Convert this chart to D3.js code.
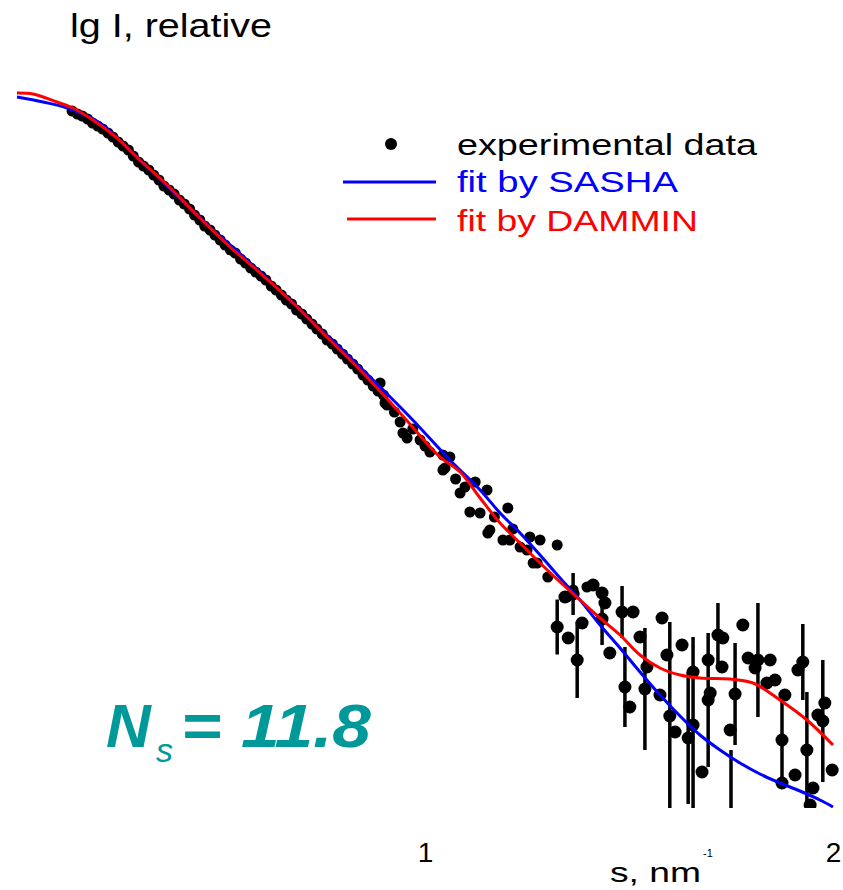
<!DOCTYPE html>
<html><head><meta charset="utf-8">
<script src="https://cdn.jsdelivr.net/npm/d3@7"></script>
<style>body{margin:0;background:#fff}svg{display:block}text{font-family:"Liberation Sans",Arial,sans-serif}</style>
</head><body>
<script>
// ---- data ----
// SASHA fit (s in nm^-1, lg I relative)
const sashaS = [0,0.064,0.123,0.203,0.301,0.449,0.596,0.767,0.848,0.963,1.061,1.135,1.184,1.233,1.282,1.331,1.380,1.429,1.478,1.527,1.576,1.625,1.674,1.723,1.772,1.821,1.870,1.919,1.968,2.0];
const sashaI = [-0.01,-0.035,-0.065,-0.14,-0.325,-0.615,-0.885,-1.215,-1.375,-1.61,-1.825,-1.975,-2.09,-2.19,-2.30,-2.415,-2.525,-2.65,-2.765,-2.885,-3.0,-3.105,-3.2,-3.275,-3.34,-3.395,-3.44,-3.48,-3.525,-3.56];
// DAMMIN fit
const damminS = [0,0.039,0.098,0.137,0.186,0.245,0.301,0.363,0.441,0.522,0.596,0.669,0.767,0.848,0.939,1.037,1.086,1.135,1.184,1.233,1.282,1.331,1.380,1.429,1.478,1.527,1.576,1.625,1.674,1.748,1.804,1.870,1.936,2.0];
const damminI = [0.01,0.005,-0.035,-0.065,-0.125,-0.215,-0.325,-0.44,-0.60,-0.76,-0.89,-1.025,-1.225,-1.39,-1.59,-1.81,-1.885,-2.015,-2.14,-2.24,-2.34,-2.435,-2.525,-2.615,-2.70,-2.80,-2.865,-2.90,-2.915,-2.92,-2.94,-3.025,-3.125,-3.25];
// experimental data, low angles
const expS = [0.135,0.148,0.160,0.173,0.185,0.198,0.210,0.223,0.235,0.248,0.260,0.273,0.285,0.298,0.310,0.323,0.335,0.348,0.360,0.373,0.385,0.398,0.410,0.423,0.435,0.448,0.460,0.473,0.485,0.498,0.510,0.523,0.535,0.548,0.560,0.573,0.585,0.598,0.610,0.623,0.635,0.648,0.660,0.673,0.685,0.698,0.710,0.723,0.735,0.748,0.760,0.773,0.785,0.798,0.810,0.823,0.835,0.848,0.860,0.873,0.885,0.898,
  0.890,0.902,0.907,0.939,0.946,0.956,0.988,1.012,1.044,1.049,1.061,1.044,1.086,1.123,1.110,1.135,1.152,1.159,1.154,1.203,1.191,1.208,1.233,1.250,1.257,1.282,1.324,1.265,1.275,1.301,1.363,1.348,1.397,0.925,0.970,1.000,1.075,1.098,1.170,1.215];
const expI = [-0.08,-0.095,-0.105,-0.12,-0.14,-0.155,-0.17,-0.19,-0.21,-0.235,-0.255,-0.275,-0.305,-0.335,-0.355,-0.375,-0.40,-0.425,-0.455,-0.475,-0.495,-0.525,-0.545,-0.57,-0.60,-0.625,-0.655,-0.675,-0.70,-0.725,-0.75,-0.775,-0.79,-0.82,-0.84,-0.865,-0.885,-0.905,-0.925,-0.955,-0.975,-1.0,-1.025,-1.045,-1.075,-1.095,-1.12,-1.145,-1.17,-1.195,-1.225,-1.245,-1.27,-1.295,-1.32,-1.345,-1.37,-1.40,-1.425,-1.455,-1.48,-1.50,
  -1.44,-1.54,-1.55,-1.635,-1.69,-1.715,-1.725,-1.785,-1.80,-1.865,-1.81,-1.875,-1.99,-1.935,-2.085,-2.09,-1.975,-2.175,-2.19,-2.065,-2.225,-2.225,-2.26,-2.275,-2.21,-2.225,-2.25,-2.34,-2.34,-2.41,-2.475,-2.51,-2.46,-1.585,-1.67,-1.755,-1.92,-1.96,-2.11,-2.17];
// experimental data, high angles (with errors)
const errS = [1.324,1.363,1.373,1.434,1.483,1.490,1.539,1.600,1.645,1.657,1.694,1.718,1.760,1.750,1.816,1.875,1.926,1.936,1.975,
  1.343,1.351,1.385,1.412,1.434,1.441,1.453,1.510,1.502,1.527,1.544,1.576,1.581,1.593,1.613,1.630,1.657,1.679,1.694,1.699,1.730,1.728,1.748,1.779,1.792,1.846,1.809,1.858,1.838,1.882,1.875,1.907,1.914,1.951,1.944,1.963,1.980,1.998];
const errI = [-2.66,-2.495,-2.825,-2.62,-2.585,-2.96,-2.97,-3.105,-3.215,-3.15,-3.025,-2.70,-2.995,-3.675,-2.825,-3.225,-2.835,-3.275,-3.13,
  -2.51,-2.715,-2.64,-2.45,-2.49,-2.54,-2.79,-2.585,-3.06,-2.71,-2.86,-3.0,-2.615,-2.80,-3.185,-2.75,-2.885,-3.385,-2.825,-2.99,-2.715,-2.86,-3.175,-2.65,-2.815,-2.825,-2.865,-2.925,-2.94,-3.0,-3.44,-3.40,-2.875,-3.465,-3.55,-3.10,-3.04,-3.375];
const errE = [0.1375,0.105,0.19,0.13,0.13,0.2,0.305,0.47,0.33,0.44,0.335,0.16,0.255,0.4,0.285,0.235,0.19,0.29,0.305,
  0,0,0,0,0,0,0,0,0,0,0,0,0,0,0,0,0,0,0,0,0,0,0,0,0,0,0,0,0,0,0,0,0,0,0,0,0,0];
const xTicks = [1,2];
const legendLabels = ["experimental data","fit by SASHA","fit by DAMMIN"];

// ---- chart ----
const W=843,H=890;
const svg=d3.select("body").append("svg").attr("width",W).attr("height",H);
const x=d3.scaleLinear().domain([0,2]).range([17,833]);
const y=d3.scaleLinear().domain([0,-3.565]).range([95,808]);

svg.append("defs").append("clipPath").attr("id","clip")
  .append("rect").attr("x",0).attr("y",60).attr("width",W).attr("height",808-60);

const plot=svg.append("g").attr("clip-path","url(#clip)");

// error bars
const hi = errS.map((s,i)=>({s,v:errI[i],e:errE[i]})).filter(d=>d.e>0);
plot.selectAll("line.err").data(hi).join("line").attr("class","err")
  .attr("x1",d=>x(d.s)).attr("x2",d=>x(d.s))
  .attr("y1",d=>y(d.v+d.e)).attr("y2",d=>y(d.v-d.e))
  .attr("stroke","#000").attr("stroke-width",3.5);

const pts = expS.map((s,i)=>({s,v:expI[i],r:5.5}))
  .concat(errS.map((s,i)=>({s,v:errI[i],r:6.5})));
plot.selectAll("circle.pt").data(pts).join("circle").attr("class","pt")
  .attr("cx",d=>x(d.s)).attr("cy",d=>y(d.v)).attr("r",d=>d.r).attr("fill","#000");

const line=d3.line().x(d=>x(d[0])).y(d=>y(d[1])).curve(d3.curveCatmullRom.alpha(0.5));
plot.append("path").datum(sashaS.map((s,i)=>[s,sashaI[i]]))
  .attr("d",line).attr("fill","none").attr("stroke","#0000ff").attr("stroke-width",3);
plot.append("path").datum(damminS.map((s,i)=>[s,damminI[i]]))
  .attr("d",line).attr("fill","none").attr("stroke","#ff0000").attr("stroke-width",3);

// x axis (labels only)
const ax=svg.append("g").attr("transform","translate(0,842)")
  .call(d3.axisBottom(x).tickValues(xTicks).tickFormat(d3.format("d")).tickSize(0).tickPadding(0));
ax.select(".domain").remove();
ax.selectAll("text").attr("font-size",28).attr("font-family","Liberation Sans, Arial, sans-serif").attr("fill","#000");

// axis titles
svg.append("text").attr("x",70).attr("y",37).attr("font-size",34).attr("textLength",202)
  .attr("lengthAdjust","spacingAndGlyphs").text("lg I, relative");
svg.append("text").attr("x",610).attr("y",882).attr("font-size",28)
  .attr("textLength",91).attr("lengthAdjust","spacingAndGlyphs").text("s, nm");
svg.append("text").attr("x",703).attr("y",857).attr("font-size",11).text("-1");

// legend
svg.append("circle").attr("cx",391).attr("cy",144).attr("r",6).attr("fill","#000");
svg.append("line").attr("x1",343).attr("x2",436).attr("y1",182).attr("y2",182).attr("stroke","#0000ff").attr("stroke-width",3);
svg.append("line").attr("x1",347).attr("x2",436).attr("y1",219).attr("y2",219).attr("stroke","#ff0000").attr("stroke-width",3);
const legY=[155,192,231], legC=["#000","#0000ff","#ff0000"], legL=[300,221,241];
legendLabels.forEach((t,i)=>{
  svg.append("text").attr("x",457).attr("y",legY[i]).attr("font-size",29).attr("fill",legC[i])
    .attr("textLength",legL[i]).attr("lengthAdjust","spacingAndGlyphs").text(t);
});

// N_s annotation
const teal="#009999";
svg.append("text").attr("x",106).attr("y",747).attr("font-size",62).attr("font-weight","bold")
  .attr("font-style","italic").attr("fill",teal).text("N");
svg.append("text").attr("x",156).attr("y",762).attr("font-size",34)
  .attr("font-style","italic").attr("fill",teal).text("s");
svg.append("text").attr("x",181).attr("y",747).attr("font-size",62).attr("font-weight","bold")
  .attr("font-style","italic").attr("fill",teal).attr("textLength",190)
  .attr("lengthAdjust","spacingAndGlyphs").text("= 11.8");
</script>
</body></html>
